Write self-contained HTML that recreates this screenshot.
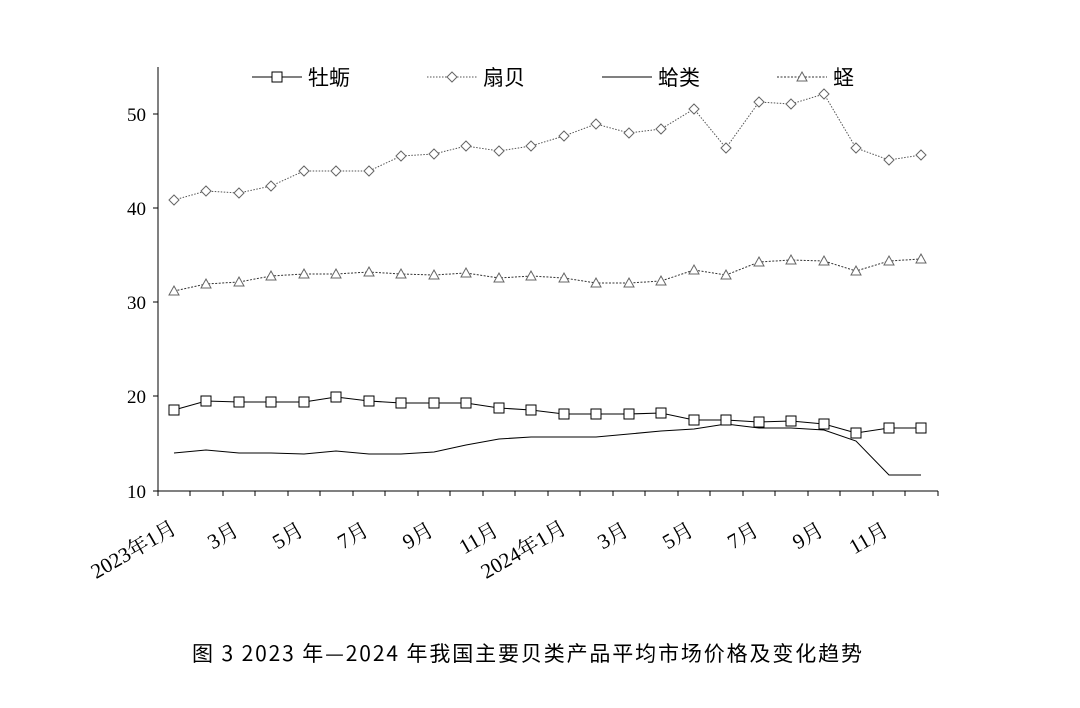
<!DOCTYPE html>
<html><head><meta charset="utf-8"><style>
html,body{margin:0;padding:0;background:#fff;}
svg text{font-family:"Liberation Serif","Noto Serif CJK SC",serif;}
</style></head><body>
<svg width="1080" height="703" viewBox="0 0 1080 703" xmlns="http://www.w3.org/2000/svg">
<rect width="1080" height="703" fill="#fff"/>
<line x1="158" y1="67" x2="158" y2="491" stroke="#000" stroke-width="1"/>
<line x1="158" y1="491" x2="938" y2="491" stroke="#000" stroke-width="1"/>
<g stroke="#000">
<line x1="153" y1="114" x2="158" y2="114"/><line x1="153" y1="208" x2="158" y2="208"/>
<line x1="153" y1="302" x2="158" y2="302"/><line x1="153" y1="396" x2="158" y2="396"/>
<line x1="153" y1="491" x2="158" y2="491"/>
</g>
<g font-size="19" text-anchor="end">
<text x="146" y="121">50</text><text x="146" y="215">40</text><text x="146" y="309">30</text>
<text x="146" y="403">20</text><text x="146" y="498">10</text>
</g>
<g stroke="#000">
<line x1="158" y1="491" x2="158" y2="496"/><line x1="190" y1="491" x2="190" y2="496"/><line x1="223" y1="491" x2="223" y2="496"/><line x1="255" y1="491" x2="255" y2="496"/><line x1="288" y1="491" x2="288" y2="496"/><line x1="320" y1="491" x2="320" y2="496"/><line x1="353" y1="491" x2="353" y2="496"/><line x1="385" y1="491" x2="385" y2="496"/><line x1="418" y1="491" x2="418" y2="496"/><line x1="450" y1="491" x2="450" y2="496"/><line x1="483" y1="491" x2="483" y2="496"/><line x1="515" y1="491" x2="515" y2="496"/><line x1="548" y1="491" x2="548" y2="496"/><line x1="580" y1="491" x2="580" y2="496"/><line x1="613" y1="491" x2="613" y2="496"/><line x1="645" y1="491" x2="645" y2="496"/><line x1="678" y1="491" x2="678" y2="496"/><line x1="710" y1="491" x2="710" y2="496"/><line x1="743" y1="491" x2="743" y2="496"/><line x1="775" y1="491" x2="775" y2="496"/><line x1="808" y1="491" x2="808" y2="496"/><line x1="840" y1="491" x2="840" y2="496"/><line x1="873" y1="491" x2="873" y2="496"/><line x1="905" y1="491" x2="905" y2="496"/><line x1="938" y1="491" x2="938" y2="496"/>
</g>
<g font-size="21" text-anchor="end">
<text transform="translate(178,532) rotate(-30)">2023年1月</text>
<text transform="translate(240,534) rotate(-30)">3月</text>
<text transform="translate(305,534) rotate(-30)">5月</text>
<text transform="translate(370,534) rotate(-30)">7月</text>
<text transform="translate(435,534) rotate(-30)">9月</text>
<text transform="translate(500,534) rotate(-30)">11月</text>
<text transform="translate(568,532) rotate(-30)">2024年1月</text>
<text transform="translate(630,534) rotate(-30)">3月</text>
<text transform="translate(695,534) rotate(-30)">5月</text>
<text transform="translate(760,534) rotate(-30)">7月</text>
<text transform="translate(825,534) rotate(-30)">9月</text>
<text transform="translate(890,534) rotate(-30)">11月</text>
</g>
<polyline fill="none" stroke="#000" stroke-width="1" points="174,453 206,450 239,453 271,453 304,454 336,451 369,454 401,454 434,452 466,445 499,439 531,437 564,437 596,437 629,434 661,431 694,429 726,424 759,428 791,428 824,430 856,441 889,475 921,475"/>
<polyline fill="none" stroke="#000" stroke-width="1" points="174,410 206,401 239,402 271,402 304,402 336,397 369,401 401,403 434,403 466,403 499,408 531,410 564,414 596,414 629,414 661,413 694,420 726,420 759,422 791,421 824,424 856,433 889,428 921,428"/>
<g fill="#fff" stroke="#000">
<rect x="169" y="405" width="10" height="10"/><rect x="201" y="396" width="10" height="10"/><rect x="234" y="397" width="10" height="10"/><rect x="266" y="397" width="10" height="10"/><rect x="299" y="397" width="10" height="10"/><rect x="331" y="392" width="10" height="10"/><rect x="364" y="396" width="10" height="10"/><rect x="396" y="398" width="10" height="10"/><rect x="429" y="398" width="10" height="10"/><rect x="461" y="398" width="10" height="10"/><rect x="494" y="403" width="10" height="10"/><rect x="526" y="405" width="10" height="10"/><rect x="559" y="409" width="10" height="10"/><rect x="591" y="409" width="10" height="10"/><rect x="624" y="409" width="10" height="10"/><rect x="656" y="408" width="10" height="10"/><rect x="689" y="415" width="10" height="10"/><rect x="721" y="415" width="10" height="10"/><rect x="754" y="417" width="10" height="10"/><rect x="786" y="416" width="10" height="10"/><rect x="819" y="419" width="10" height="10"/><rect x="851" y="428" width="10" height="10"/><rect x="884" y="423" width="10" height="10"/><rect x="916" y="423" width="10" height="10"/>
</g>
<polyline fill="none" stroke="#555" stroke-width="1" stroke-dasharray="1.5,1.5" points="174,200 206,191 239,193 271,186 304,171 336,171 369,171 401,156 434,154 466,146 499,151 531,146 564,136 596,124 629,133 661,129 694,109 726,148 759,102 791,104 824,94 856,148 889,160 921,155"/>
<g fill="#fff" stroke="#666">
<path d="M174,195l5,5-5,5-5,-5z M206,186l5,5-5,5-5,-5z M239,188l5,5-5,5-5,-5z M271,181l5,5-5,5-5,-5z M304,166l5,5-5,5-5,-5z M336,166l5,5-5,5-5,-5z M369,166l5,5-5,5-5,-5z M401,151l5,5-5,5-5,-5z M434,149l5,5-5,5-5,-5z M466,141l5,5-5,5-5,-5z M499,146l5,5-5,5-5,-5z M531,141l5,5-5,5-5,-5z M564,131l5,5-5,5-5,-5z M596,119l5,5-5,5-5,-5z M629,128l5,5-5,5-5,-5z M661,124l5,5-5,5-5,-5z M694,104l5,5-5,5-5,-5z M726,143l5,5-5,5-5,-5z M759,97l5,5-5,5-5,-5z M791,99l5,5-5,5-5,-5z M824,89l5,5-5,5-5,-5z M856,143l5,5-5,5-5,-5z M889,155l5,5-5,5-5,-5z M921,150l5,5-5,5-5,-5z"/>
</g>
<polyline fill="none" stroke="#333" stroke-width="1" stroke-dasharray="2,1.5" points="174,291 206,284 239,282 271,276 304,274 336,274 369,272 401,274 434,275 466,273 499,278 531,276 564,278 596,283 629,283 661,281 694,270 726,275 759,262 791,260 824,261 856,271 889,261 921,259"/>
<g fill="#fff" stroke="#666">
<path d="M174,286l5,9h-10z M206,279l5,9h-10z M239,277l5,9h-10z M271,271l5,9h-10z M304,269l5,9h-10z M336,269l5,9h-10z M369,267l5,9h-10z M401,269l5,9h-10z M434,270l5,9h-10z M466,268l5,9h-10z M499,273l5,9h-10z M531,271l5,9h-10z M564,273l5,9h-10z M596,278l5,9h-10z M629,278l5,9h-10z M661,276l5,9h-10z M694,265l5,9h-10z M726,270l5,9h-10z M759,257l5,9h-10z M791,255l5,9h-10z M824,256l5,9h-10z M856,266l5,9h-10z M889,256l5,9h-10z M921,254l5,9h-10z"/>
</g>
<line x1="252" y1="77" x2="302" y2="77" stroke="#000"/>
<rect x="272" y="72" width="10" height="10" fill="#fff" stroke="#000"/>
<text x="308" y="85" font-size="21" style="font-family:'Noto Sans CJK SC',sans-serif">牡蛎</text>
<line x1="427" y1="77" x2="477" y2="77" stroke="#555" stroke-dasharray="1.5,1.5"/>
<path d="M452,72l5,5-5,5-5,-5z" fill="#fff" stroke="#666"/>
<text x="483" y="85" font-size="21" style="font-family:'Noto Sans CJK SC',sans-serif">扇贝</text>
<line x1="602" y1="77" x2="652" y2="77" stroke="#000"/>
<text x="658" y="85" font-size="21" style="font-family:'Noto Sans CJK SC',sans-serif">蛤类</text>
<line x1="777" y1="77" x2="827" y2="77" stroke="#333" stroke-dasharray="2,1.5"/>
<path d="M802,72l5,9h-10z" fill="#fff" stroke="#666"/>
<text x="833" y="85" font-size="21" style="font-family:'Noto Sans CJK SC',sans-serif">蛏</text>
<text x="192" y="661" font-size="21" textLength="670" lengthAdjust="spacing" style="font-family:'Noto Sans CJK SC',sans-serif">图 3 2023 年—2024 年我国主要贝类产品平均市场价格及变化趋势</text>
</svg>
</body></html>
